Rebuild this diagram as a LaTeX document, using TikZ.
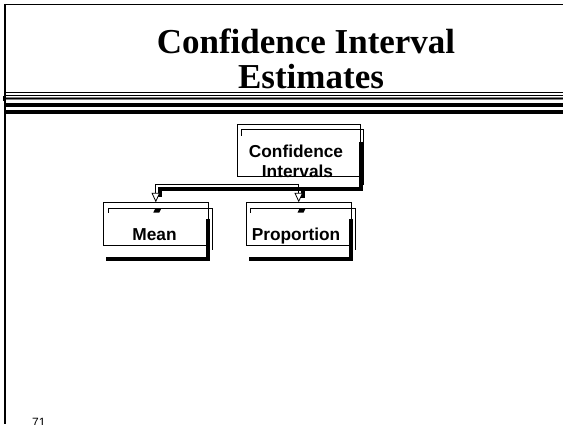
\documentclass[tikz,border=0pt]{standalone}
\usepackage{fontspec}
\setmainfont{Liberation Serif}
\newfontfamily\arialb{Liberation Sans}
\usetikzlibrary{arrows.meta,calc}
\begin{document}
\begin{tikzpicture}[x=1pt,y=-1pt,
  thinl/.style={line width=0.8pt},
  shadowl/.style={line width=4pt},
  boxmain/.style={draw,line width=0.8pt,rectangle,inner sep=0pt},
  lbl/.style={font=\arialb\bfseries\fontsize{17.3}{20}\selectfont,inner sep=0pt},
  ttl/.style={font=\bfseries\fontsize{35}{42}\selectfont,inner sep=0pt},
  conn/.style={line width=0.8pt,-{Triangle[open,fill=white,length=9.5pt,width=8.5pt]}}
]
\useasboundingbox (0,0) rectangle (563,424);

% slide frame
\draw[line width=1.5pt] (4,4.7) -- (563,4.7);
\draw[line width=2pt] (5,3.9) -- (5,424);
\fill (2.7,96) rectangle (5,101);

% rules under the title
\draw[line width=0.8pt] (6,92.3) -- (563,92.3);
\draw[line width=0.8pt] (6,95.6) -- (563,95.6);
\draw[line width=0.8pt,gray] (6,97) -- (563,97);
\draw[line width=0.8pt] (6,98.4) -- (563,98.4);
\draw[line width=0.8pt,gray] (6,99.8) -- (563,99.8);
\draw[line width=3.7pt] (6,105.2) -- (563,105.2);
\draw[line width=4.3pt] (6,112.2) -- (563,112.2);

% title
\node[ttl,anchor=base] (t1) at (306,53) {Confidence Interval};
\node[ttl,anchor=base] (t2) at (311,88) {Estimates};

% boxes
\node[boxmain,minimum width=122.5pt,minimum height=52pt] (ci) at (298.75,150) {};
\node[boxmain,minimum width=105pt,minimum height=42.3pt] (mean) at (155.8,223.85) {};
\node[boxmain,minimum width=105pt,minimum height=42.3pt] (prop) at (298.5,223.85) {};

% box decorations
\draw[thinl] ($(ci.north west)+(4,12)$) |- ($(ci.north east)+(3.3,6)$) -- ($(ci.south east)+(3.3,9)$);
\draw[shadowl] ($(ci.north east)+(0.3,18)$) -- ($(ci.south east)+(0.3,12.5)$) -- ($(ci.south west)+(0.5,12.5)$);

\draw[thinl] ($(mean.north west)+(5,10.3)$) |- ($(mean.north east)+(3.4,5.6)$) -- ($(mean.south east)+(3.4,5)$);
\draw[shadowl] ($(mean.north east)+(-0.3,16.3)$) -- ($(mean.south east)+(-0.3,13.5)$) -- ($(mean.south west)+(3.4,13.5)$);

\draw[thinl] ($(prop.north west)+(5,10.3)$) |- ($(prop.north east)+(4,5.6)$) -- ($(prop.south east)+(4,5)$);
\draw[shadowl] ($(prop.north east)+(-0.5,16.3)$) -- ($(prop.south east)+(-0.5,13.5)$) -- ($(prop.south west)+(3,13.5)$);

% connectors
\coordinate (j) at ($(ci.south)+(0,7.5)$);
\draw[shadowl] ($(j)+(4,5)$) -| ($(mean.north)+(4.3,-5)$);
\draw[shadowl] ($(j)+(4,5)$) -- ($(j)+(4,14.2)$);
\draw[conn] (j) -| (mean.north);
\draw[conn] (j) -- (j |- prop.north);
\fill ($(mean.north)+(-0.5,6.3)$) -- ++(6,0) -- ++(-2,4) -- ++(-6,0) -- cycle;
\fill ($(prop.north)+(1,6.3)$) -- ++(6,0) -- ++(-2,4) -- ++(-6,0) -- cycle;

% labels
\node[lbl,anchor=base] (ciA) at (296,157.7) {Confidence};
\node[lbl,anchor=base] (ciB) at (297.5,177.3) {Intervals};
\node[lbl,anchor=base] (meanT) at (154.5,240) {Mean};
\node[lbl,anchor=base] (propT) at (296,240) {Proportion};
\node[font=\arialb\fontsize{12}{14}\selectfont,anchor=base west,inner sep=0pt] (pg) at (32,426) {71};
\end{tikzpicture}
\end{document}
